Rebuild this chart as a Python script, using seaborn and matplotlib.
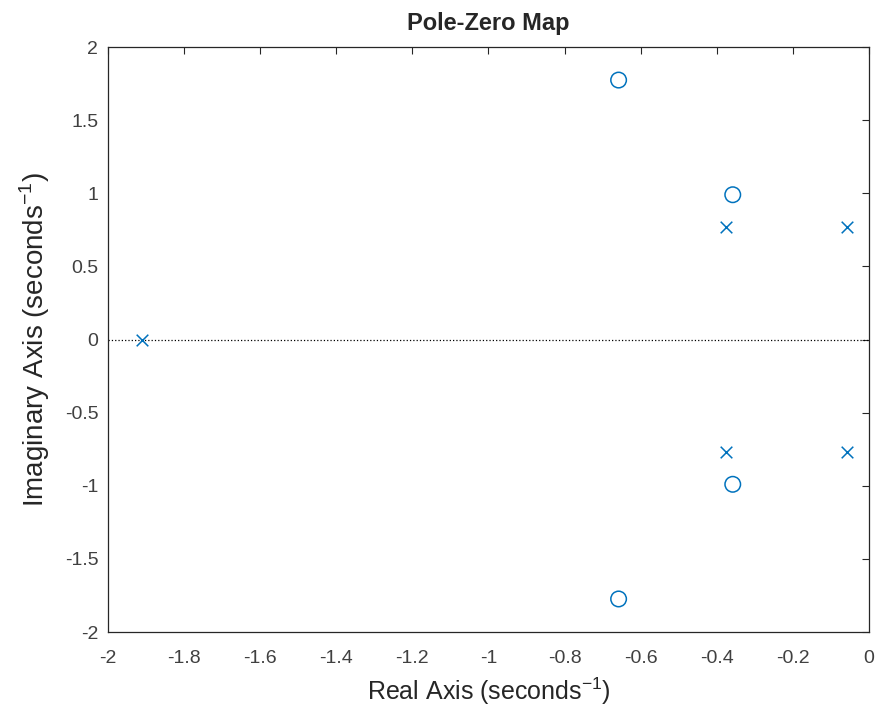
"""
Pole-zero map (MATLAB style) redrawn with seaborn
"""
import matplotlib
matplotlib.use("Agg")
import matplotlib.pyplot as plt
import seaborn as sns
import pandas as pd

# poles and zeros
pole_re = [-1.911, -0.377, -0.377, -0.057, -0.057]
pole_im = [0.0, 0.767, -0.767, 0.767, -0.767]
zero_re = [-0.658, -0.658, -0.358, -0.358]
zero_im = [1.774, -1.774, 0.99, -0.99]

x_ticks = [-2, -1.8, -1.6, -1.4, -1.2, -1, -0.8, -0.6, -0.4, -0.2, 0]
y_ticks = [-2, -1.5, -1, -0.5, 0, 0.5, 1, 1.5, 2]

poles = pd.DataFrame({"re": pole_re, "im": pole_im})
zeros = pd.DataFrame({"re": zero_re, "im": zero_im})

sns.set_style("white")
plt.rcParams["font.family"] = ["Liberation Sans", "DejaVu Sans"]
plt.rcParams["mathtext.fontset"] = "custom"
plt.rcParams["mathtext.rm"] = "Liberation Sans"
blue = "#0072BD"

fig = plt.figure(figsize=(8.83, 7.2), dpi=100)
ax = fig.add_axes([0.1223, 0.1222, 0.8618, 0.8125])

# real axis, dotted
ax.axhline(0, color="black", linestyle=":", linewidth=0.9, zorder=1)

sns.scatterplot(data=poles, x="re", y="im", marker="x", s=70, color=blue,
                linewidth=1.1, ax=ax, zorder=3)
sns.scatterplot(data=zeros, x="re", y="im", marker="o", s=125,
                facecolors="none", edgecolor=blue, linewidth=1.1, ax=ax, zorder=3)

ax.set_xlim(-2, 0)
ax.set_ylim(-2, 2)
ax.set_xticks(x_ticks)
ax.set_xticklabels([f"{t:g}" for t in x_ticks])
ax.set_yticks(y_ticks)
ax.set_yticklabels([f"{t:g}" for t in y_ticks])

for sp in ax.spines.values():
    sp.set_visible(True)
    sp.set_color("#262626")
    sp.set_linewidth(0.9)

ax.tick_params(direction="in", length=5, width=0.8, top=True, right=True,
               labelsize=14, labelcolor="#404040", color="#262626")
ax.tick_params(axis="x", pad=13)
ax.tick_params(axis="y", pad=7)

ax.set_xlabel("Real Axis (seconds$^{\\mathrm{-1}}$)", fontsize=18, color="#262626", labelpad=6)
ax.set_ylabel("Imaginary Axis (seconds$^{\\mathrm{-1}}$)", fontsize=20, color="#262626", labelpad=9)
ax.set_title("Pole-Zero Map", fontsize=17, fontweight="bold", pad=12)

fig.savefig("out.png", dpi=100)
plt.close(fig)
